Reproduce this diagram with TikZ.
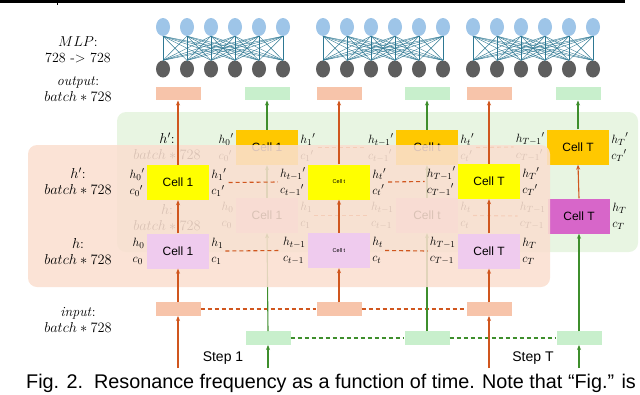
\documentclass[tikz,border=0pt]{standalone}
\usepackage{fontspec}
\setsansfont{Liberation Sans}
\usetikzlibrary{arrows.meta,shapes.geometric}
\definecolor{gpanel}{HTML}{E8F5E2}
\definecolor{opanel}{HTML}{FADFD0}
\definecolor{orect}{HTML}{F7C4AA}
\definecolor{grect}{HTML}{C8EFCC}
\definecolor{ylw}{HTML}{FFFF00}
\definecolor{gold}{HTML}{FFC800}
\definecolor{pinkc}{HTML}{EFCBEE}
\definecolor{mag}{HTML}{D766C9}
\definecolor{oarr}{HTML}{D0561E}
\definecolor{garr}{HTML}{3E8E2C}
\definecolor{blu}{HTML}{9EC5E8}
\definecolor{gry}{HTML}{5E5E5E}
\definecolor{tealc}{HTML}{2E7893}
\begin{document}
\begin{tikzpicture}[x=1pt,y=-1pt,
  cellbox/.style={minimum width=62pt,minimum height=35pt,inner sep=0pt,font=\sffamily\fontsize{12}{12}\selectfont},
  tinycell/.style={cellbox,font=\sffamily\fontsize{5.5}{6}\selectfont},
  bar/.style={minimum width=45pt,minimum height=13.5pt,inner sep=0pt},
  lbl/.style={font=\fontsize{14}{16}\selectfont,align=center,inner sep=0pt},
  sidel/.style={font=\fontsize{13}{16}\selectfont,align=left,inner xsep=2pt,inner ysep=0pt},
  steplbl/.style={font=\sffamily\fontsize{14}{14}\selectfont,inner sep=0pt},
  bluenode/.style={ellipse,fill=blu,minimum width=14pt,minimum height=18pt,inner sep=0pt},
  graynode/.style={ellipse,fill=gry,minimum width=14pt,minimum height=17pt,inner sep=0pt},
  mlpline/.style={draw=tealc,line width=0.4pt},
  oline/.style={draw=oarr,line width=1.1pt,-{Stealth[length=5pt,width=4pt]}},
  gline/.style={draw=garr,line width=1.1pt,-{Stealth[length=5pt,width=4pt]}},
  odash/.style={draw=oarr,line width=1.1pt,dash pattern=on 4pt off 3pt},
  gdash/.style={draw=garr,line width=1.1pt,dash pattern=on 4pt off 3pt}]
\useasboundingbox (0,0) rectangle (640,394);
% top rule
\fill (0,0) rectangle (56.5,3);
\fill (58,0) rectangle (625,3);
\fill (57.3,0) rectangle (58.3,4.5);
% MLP blocks
\foreach \g/\s in {1/163,2/323,3/473}{
  \foreach \i in {0,...,5}{
    \node[bluenode] (b\g\i) at ({\s+24*\i},27) {};
    \node[graynode] (k\g\i) at ({\s+24*\i},69) {};
  }
  \foreach \i in {0,...,5}{\foreach \j in {0,...,5}{\draw[mlpline] (b\g\i.south) -- (k\g\j.north);}}
}
% left labels
\node[lbl] (lmlp) at (78,49.5) {$MLP$:\\728 -> 728};
\node[lbl] (lout) at (78,89.5) {\textit{output}:\\$batch * 728$};
\node[lbl] (linp) at (78,319.5) {\textit{input}:\\$batch * 728$};
% output bars
\node[bar,fill=orect] (ob1) at (178,93.5) {};
\node[bar,fill=grect] (gb1) at (267,93.5) {};
\node[bar,fill=orect] (ob2) at (339,93.5) {};
\node[bar,fill=grect] (gb2) at (427,93.5) {};
\node[bar,fill=orect] (ob3) at (489,93.5) {};
\node[bar,fill=grect] (gb3) at (578,93.5) {};
% input bars
\node[bar,fill=orect] (oi1) at (178,309) {};
\node[bar,fill=orect] (oi2) at (339,309) {};
\node[bar,fill=orect] (oi3) at (489,309) {};
\node[bar,fill=grect] (gi1) at (268,338) {};
\node[bar,fill=grect] (gi2) at (427,338) {};
\node[bar,fill=grect] (gi3) at (579,338) {};
\draw[odash] (oi1.east) -- (oi2.west);
\draw[odash] (oi2.east) -- (oi3.west);
\draw[gdash] (gi1.east) -- (gi2.west);
\draw[gdash] (gi2.east) -- (gi3.west);
% step labels and bottom arrows
\node[steplbl] (st1) at (223,358) {Step 1};
\node[steplbl] (stT) at (533,358) {Step T};
\coordinate (s1o) at (178,368);
\coordinate (s1g) at (268,368);
\coordinate (sTo) at (489,368);
\coordinate (sTg) at (579,368);
\draw[oline] (s1o) -- (oi1.south);
\draw[gline] (s1g) -- (gi1.south);
\draw[oline] (sTo) -- (oi3.south);
\draw[gline] (sTg) -- (gi3.south);
% ================= back (green) layer
\fill[gpanel,rounded corners=9pt] (117,112) rectangle (638,252);
\node[lbl] (lbh2) at (167,146) {$h'$:\\$batch * 728$};
\node[lbl] (lbh1) at (167,217.5) {$h$:\\$batch * 728$};
\node[cellbox,fill=gold] (bc1) at (267,147.5) {Cell 1};
\node[cellbox,fill=gold] (bct) at (427,147.5) {Cell t};
\node[cellbox,fill=gold] (bcT) at (578,147) {Cell T};
\node[cellbox,fill=pinkc] (bp1) at (267,215.5) {Cell 1};
\node[cellbox,fill=pinkc] (bpt) at (427,215.5) {Cell t};
\node[cellbox,fill=mag] (bpT) at (579,216) {Cell T};
\node[sidel,anchor=east] (bl1) at (bc1.west) {${h_0}'$\\${c_0}'$};
\node[sidel,anchor=west] (br1) at (bc1.east) {${h_1}'$\\${c_1}'$};
\node[sidel,anchor=east] (bl2) at (bct.west) {${h_{t-1}}'$\\${c_{t-1}}'$};
\node[sidel,anchor=west] (br2) at (bct.east) {${h_t}'$\\${c_t}'$};
\node[sidel,anchor=east] (bl3) at (bcT.west) {${h_{T-1}}'$\\${c_{T-1}}'$};
\node[sidel,anchor=west] (br3) at (bcT.east) {${h_T}'$\\${c_T}'$};
\node[sidel,anchor=east] (bq1) at (bp1.west) {$h_0$\\$c_0$};
\node[sidel,anchor=west] (bs1) at (bp1.east) {$h_1$\\$c_1$};
\node[sidel,anchor=east] (bq2) at (bpt.west) {$h_{t-1}$\\$c_{t-1}$};
\node[sidel,anchor=west] (bs2) at (bpt.east) {$h_t$\\$c_t$};
\node[sidel,anchor=east] (bq3) at (bpT.west) {$h_{T-1}$\\$c_{T-1}$};
\node[sidel,anchor=west] (bs3) at (bpT.east) {$h_T$\\$c_T$};
\draw[odash] (br1.east) -- (bl2.west);
\draw[odash] (br2.east) -- (bl3.west);
\draw[odash] (bs1.east) -- (bq2.west);
\draw[odash] (bs2.east) -- (bq3.west);
\draw[gline] (gi1.north) -- (bp1.south);
\draw[gline] (bp1.north) -- (bc1.south);
\draw[gline] (gi2.north) -- (bpt.south);
\draw[gline] (bpt.north) -- (bct.south);
\draw[gline] (gi3.north) -- (bpT.south);
\draw[oline] (bpT.north) -- (bcT.south);
\draw[gline] (bc1.north) -- (gb1.south);
\draw[gline] (bct.north) -- (gb2.south);
\draw[gline] (bcT.north) -- (gb3.south);
% ================= front (orange) layer
\fill[opanel,fill opacity=0.87,rounded corners=9pt] (28,145) rectangle (550,287);
\node[lbl] (lfh2) at (78,181) {$h'$:\\$batch * 728$};
\node[lbl] (lfh1) at (78,251) {$h$:\\$batch * 728$};
\node[cellbox,fill=ylw] (fy1) at (178,182.5) {Cell 1};
\node[tinycell,fill=ylw] (fyt) at (339,182) {Cell t};
\node[cellbox,fill=ylw] (fyT) at (489,181.5) {Cell T};
\node[cellbox,fill=pinkc] (fp1) at (178,251) {Cell 1};
\node[tinycell,fill=pinkc] (fpt) at (339,250.5) {Cell t};
\node[cellbox,fill=pinkc] (fpT) at (489,251) {Cell T};
\node[sidel,anchor=east] (fl1) at (fy1.west) {${h_0}'$\\${c_0}'$};
\node[sidel,anchor=west] (fr1) at (fy1.east) {${h_1}'$\\${c_1}'$};
\node[sidel,anchor=east] (fl2) at (fyt.west) {${h_{t-1}}'$\\${c_{t-1}}'$};
\node[sidel,anchor=west] (fr2) at (fyt.east) {${h_t}'$\\${c_t}'$};
\node[sidel,anchor=east] (fl3) at (fyT.west) {${h_{T-1}}'$\\${c_{T-1}}'$};
\node[sidel,anchor=west] (fr3) at (fyT.east) {${h_T}'$\\${c_T}'$};
\node[sidel,anchor=east] (fq1) at (fp1.west) {$h_0$\\$c_0$};
\node[sidel,anchor=west] (fs1) at (fp1.east) {$h_1$\\$c_1$};
\node[sidel,anchor=east] (fq2) at (fpt.west) {$h_{t-1}$\\$c_{t-1}$};
\node[sidel,anchor=west] (fs2) at (fpt.east) {$h_t$\\$c_t$};
\node[sidel,anchor=east] (fq3) at (fpT.west) {$h_{T-1}$\\$c_{T-1}$};
\node[sidel,anchor=west] (fs3) at (fpT.east) {$h_T$\\$c_T$};
\draw[odash] (fr1.east) -- (fl2.west);
\draw[odash] (fr2.east) -- (fl3.west);
\draw[odash] (fs1.east) -- (fq2.west);
\draw[odash] (fs2.east) -- (fq3.west);
\draw[oline] (oi1.north) -- (fp1.south);
\draw[oline] (fp1.north) -- (fy1.south);
\draw[oline] (fy1.north) -- (ob1.south);
\draw[oline] (oi2.north) -- (fpt.south);
\draw[oline] (fpt.north) -- (fyt.south);
\draw[oline] (fyt.north) -- (ob2.south);
\draw[oline] (oi3.north) -- (fpT.south);
\draw[oline] (fpT.north) -- (fyT.south);
\draw[oline] (fyT.north) -- (ob3.south);
% caption
\node[anchor=base west,inner sep=0pt,font=\sffamily\fontsize{19.8}{20}\selectfont] (cap) at (26,388) {Fig. 2.\ \ Resonance frequency as a function of time. Note that “Fig.” is};
\end{tikzpicture}
\end{document}
